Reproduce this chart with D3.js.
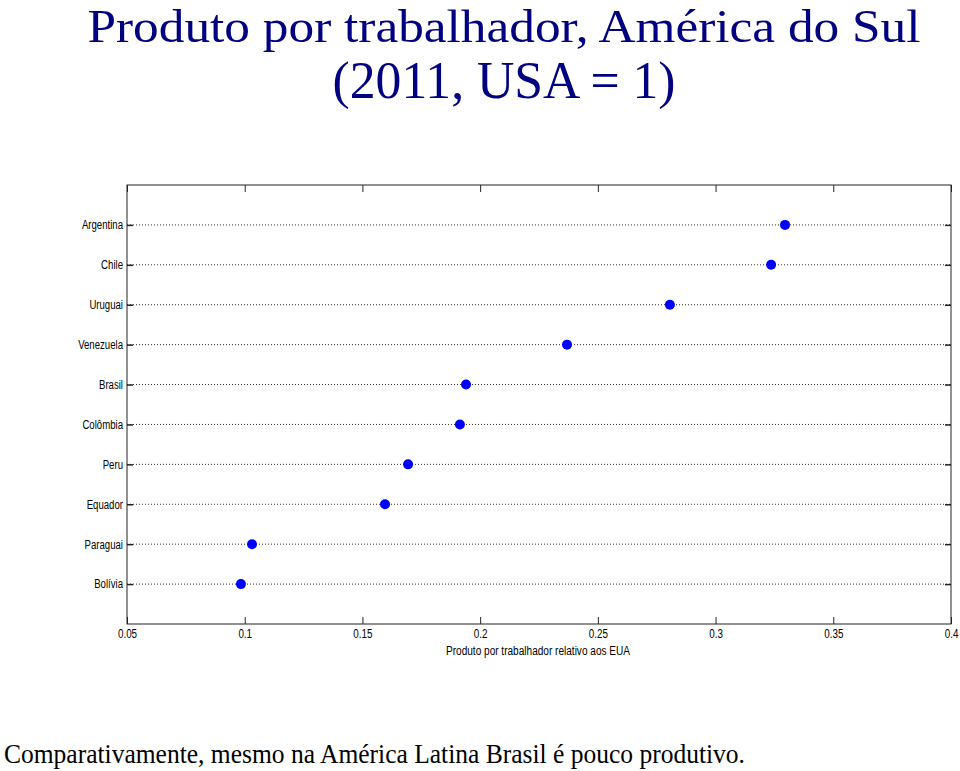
<!DOCTYPE html>
<html><head><meta charset="utf-8">
<script src="https://cdn.jsdelivr.net/npm/d3@7"></script>
<style>body{margin:0;background:#fff;} svg{display:block;}</style>
</head><body>
<svg id="c" width="960" height="771"></svg>
<script>
const countries = ["Bolívia","Paraguai","Equador","Peru","Colômbia","Brasil","Venezuela","Uruguai","Chile","Argentina"];
const values = [0.0984,0.1031,0.1596,0.1694,0.1914,0.1940,0.2369,0.2806,0.3236,0.3295];
const xTicks = [0.05,0.1,0.15,0.2,0.25,0.3,0.35,0.4];
const xTickLabels = ["0.05","0.1","0.15","0.2","0.25","0.3","0.35","0.4"];

const svg = d3.select("#c");
const L=127, R=951, T=185, B=624;
const x = d3.scaleLinear().domain([0.05,0.4]).range([L,R]);
const y = d3.scaleLinear().domain([0,11]).range([B,T]);
const sans = "'Liberation Sans',Arial,sans-serif";
const serif = "'Liberation Serif','Times New Roman',serif";

function condense(sel, f){
  sel.each(function(){ const w=this.getComputedTextLength(); d3.select(this).attr("textLength",w*f).attr("lengthAdjust","spacingAndGlyphs"); });
}

// title
svg.append("text").attr("x",504).attr("y",42).attr("text-anchor","middle")
  .attr("font-family",serif).attr("font-size",47)
  .attr("fill","#000080").attr("textLength",833).attr("lengthAdjust","spacingAndGlyphs")
  .text("Produto por trabalhador, América do Sul");
svg.append("text").attr("x",504).attr("y",98).attr("text-anchor","middle")
  .attr("font-family",serif).attr("font-size",52)
  .attr("fill","#000080").attr("textLength",343).attr("lengthAdjust","spacingAndGlyphs")
  .text("(2011, USA = 1)");

// gridlines (dotted)
svg.append("g").selectAll("line").data(countries).join("line")
  .attr("x1",L).attr("x2",R)
  .attr("y1",(d,i)=>y(i+1)).attr("y2",(d,i)=>y(i+1))
  .attr("stroke","#333").attr("stroke-width",1).attr("stroke-dasharray","1,2");

// axes box
svg.append("rect").attr("x",L).attr("y",T).attr("width",R-L).attr("height",B-T)
  .attr("fill","none").attr("stroke","#222").attr("stroke-width",1);

// bottom axis (inward ticks)
const xb = d3.axisBottom(x).tickValues(xTicks).tickFormat((d,i)=>xTickLabels[i]).tickSizeInner(-7).tickSizeOuter(0).tickPadding(5);
const gx = svg.append("g").attr("transform",`translate(0,${B})`).call(xb);
gx.select(".domain").remove();
gx.selectAll("line").attr("stroke","#222");
gx.selectAll("text").attr("font-family",sans).attr("font-size",12).attr("fill","#000").call(condense,0.82);
// top ticks
const xt = d3.axisTop(x).tickValues(xTicks).tickFormat("").tickSizeInner(-7).tickSizeOuter(0);
const gxt = svg.append("g").attr("transform",`translate(0,${T})`).call(xt);
gxt.select(".domain").remove();
gxt.selectAll("line").attr("stroke","#222");

// left axis
const yl = d3.axisLeft(y).tickValues(d3.range(1,11)).tickFormat(d=>countries[d-1]).tickSizeInner(-6).tickSizeOuter(0).tickPadding(4);
const gy = svg.append("g").attr("transform",`translate(${L},0)`).call(yl);
gy.select(".domain").remove();
gy.selectAll("line").attr("stroke","#222").attr("stroke-width",1.5);
gy.selectAll("text").attr("font-family",sans).attr("font-size",12).attr("fill","#000").call(condense,0.8);
const yr = d3.axisRight(y).tickValues(d3.range(1,11)).tickFormat("").tickSizeInner(-6).tickSizeOuter(0);
const gyr = svg.append("g").attr("transform",`translate(${R},0)`).call(yr);
gyr.select(".domain").remove();
gyr.selectAll("line").attr("stroke","#222").attr("stroke-width",1.5);

// x label
svg.append("text").attr("x",538).attr("y",655).attr("text-anchor","middle")
  .attr("font-family",sans).attr("font-size",12).attr("fill","#000")
  .attr("textLength",184).attr("lengthAdjust","spacingAndGlyphs")
  .text("Produto por trabalhador relativo aos EUA");

// points
svg.append("g").selectAll("circle").data(values).join("circle")
  .attr("cx",d=>x(d)).attr("cy",(d,i)=>y(i+1)).attr("r",5)
  .attr("fill","#0000ff");

// bottom note
svg.append("text").attr("x",4).attr("y",763)
  .attr("font-family",serif).attr("font-size",28)
  .attr("fill","#000").attr("textLength",741).attr("lengthAdjust","spacingAndGlyphs")
  .text("Comparativamente, mesmo na América Latina Brasil é pouco produtivo.");
</script>
</body></html>
